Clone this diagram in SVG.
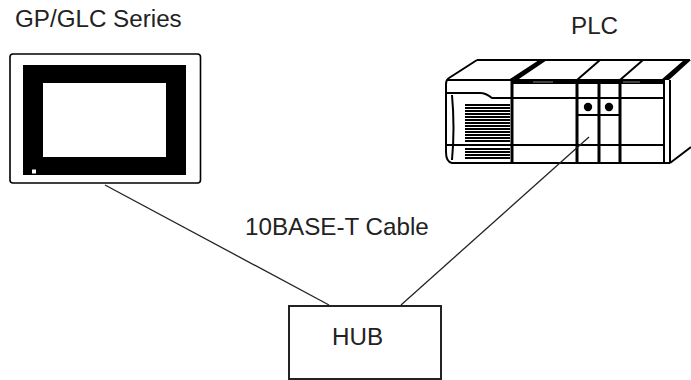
<svg xmlns="http://www.w3.org/2000/svg" width="691" height="380" viewBox="0 0 691 380">
<style>
text{font-family:"Liberation Sans",Arial,sans-serif;font-size:24.2px;fill:#222}
.ln{fill:none;stroke:#000;stroke-width:2}
.th{fill:none;stroke:#000;stroke-width:3}
.cable{fill:none;stroke:#222;stroke-width:1.3}
</style>
<rect width="691" height="380" fill="#fff"/>
<g id="gp">
<rect x="10" y="54" width="190.5" height="129" rx="3" fill="#fff" stroke="#000" stroke-width="1.6"/>
<rect x="23" y="65" width="163" height="110" fill="#000"/>
<rect x="43" y="83" width="123" height="74" fill="#fff"/>
<rect x="32" y="169.5" width="4" height="4" fill="#fff"/>
<text x="15" y="27">GP/GLC Series</text>
</g>
<g id="plc">
<path class="ln" d="M477,60 H690"/>
<path class="ln" d="M477,60 L449,78 Q446,80 446,84 V152 Q446,162 452,163 H670"/>
<path class="ln" d="M447,80 H512"/>
<path class="ln" d="M447,93 H480 Q486,93 492,98 H663"/>
<path class="ln" d="M452,95 Q455,128 452,160"/>
<path class="ln" d="M446,145 H663"/>
<path d="M539,60 L547,60 L516,81 L507,81 Z" fill="#000"/>
<path class="ln" d="M600,60 L577,80"/>
<path class="ln" d="M643,60 L620,80"/>
<path d="M684,60 L691,60 L669,80 L661,80 Z" fill="#000"/>
<rect x="512" y="79" width="151" height="5" fill="#000"/>
<path d="M533,82 H553 M623,82 H640" stroke="#888" stroke-width="1.2"/>
<path class="th" d="M512,80 V163 M577,80 V163 M599,80 V163 M620,80 V163"/>
<path class="ln" d="M664,80 V163 M670,80 V163"/>
<path class="ln" d="M670,163 L691,147"/>
<path class="ln" d="M577,115 H620"/>
<circle cx="588" cy="107" r="4.2" fill="#000"/>
<circle cx="609" cy="107" r="4.2" fill="#000"/>
<path stroke="#000" stroke-width="2" d="M465,105 H510 M465,108 H510 M465,111 H510 M465,114 H510 M465,117 H510 M465,120 H510 M465,123 H510 M465,126 H510 M465,129 H510 M465,132 H510 M465,135 H510 M465,138 H510 M465,141 H510 M465,149 H510 M465,152 H510 M465,155 H510 M465,158 H510"/>
<text x="571" y="34">PLC</text>
</g>
<g id="hub">
<rect x="289" y="306" width="152" height="73" fill="#fff" stroke="#222" stroke-width="2"/>
<text x="332" y="345">HUB</text>
</g>
<g id="connectors">
<line class="cable" x1="105" y1="185" x2="329" y2="305"/>
<line class="cable" x1="589" y1="137" x2="401" y2="305"/>
<text x="245" y="235">10BASE-T Cable</text>
</g>
</svg>
